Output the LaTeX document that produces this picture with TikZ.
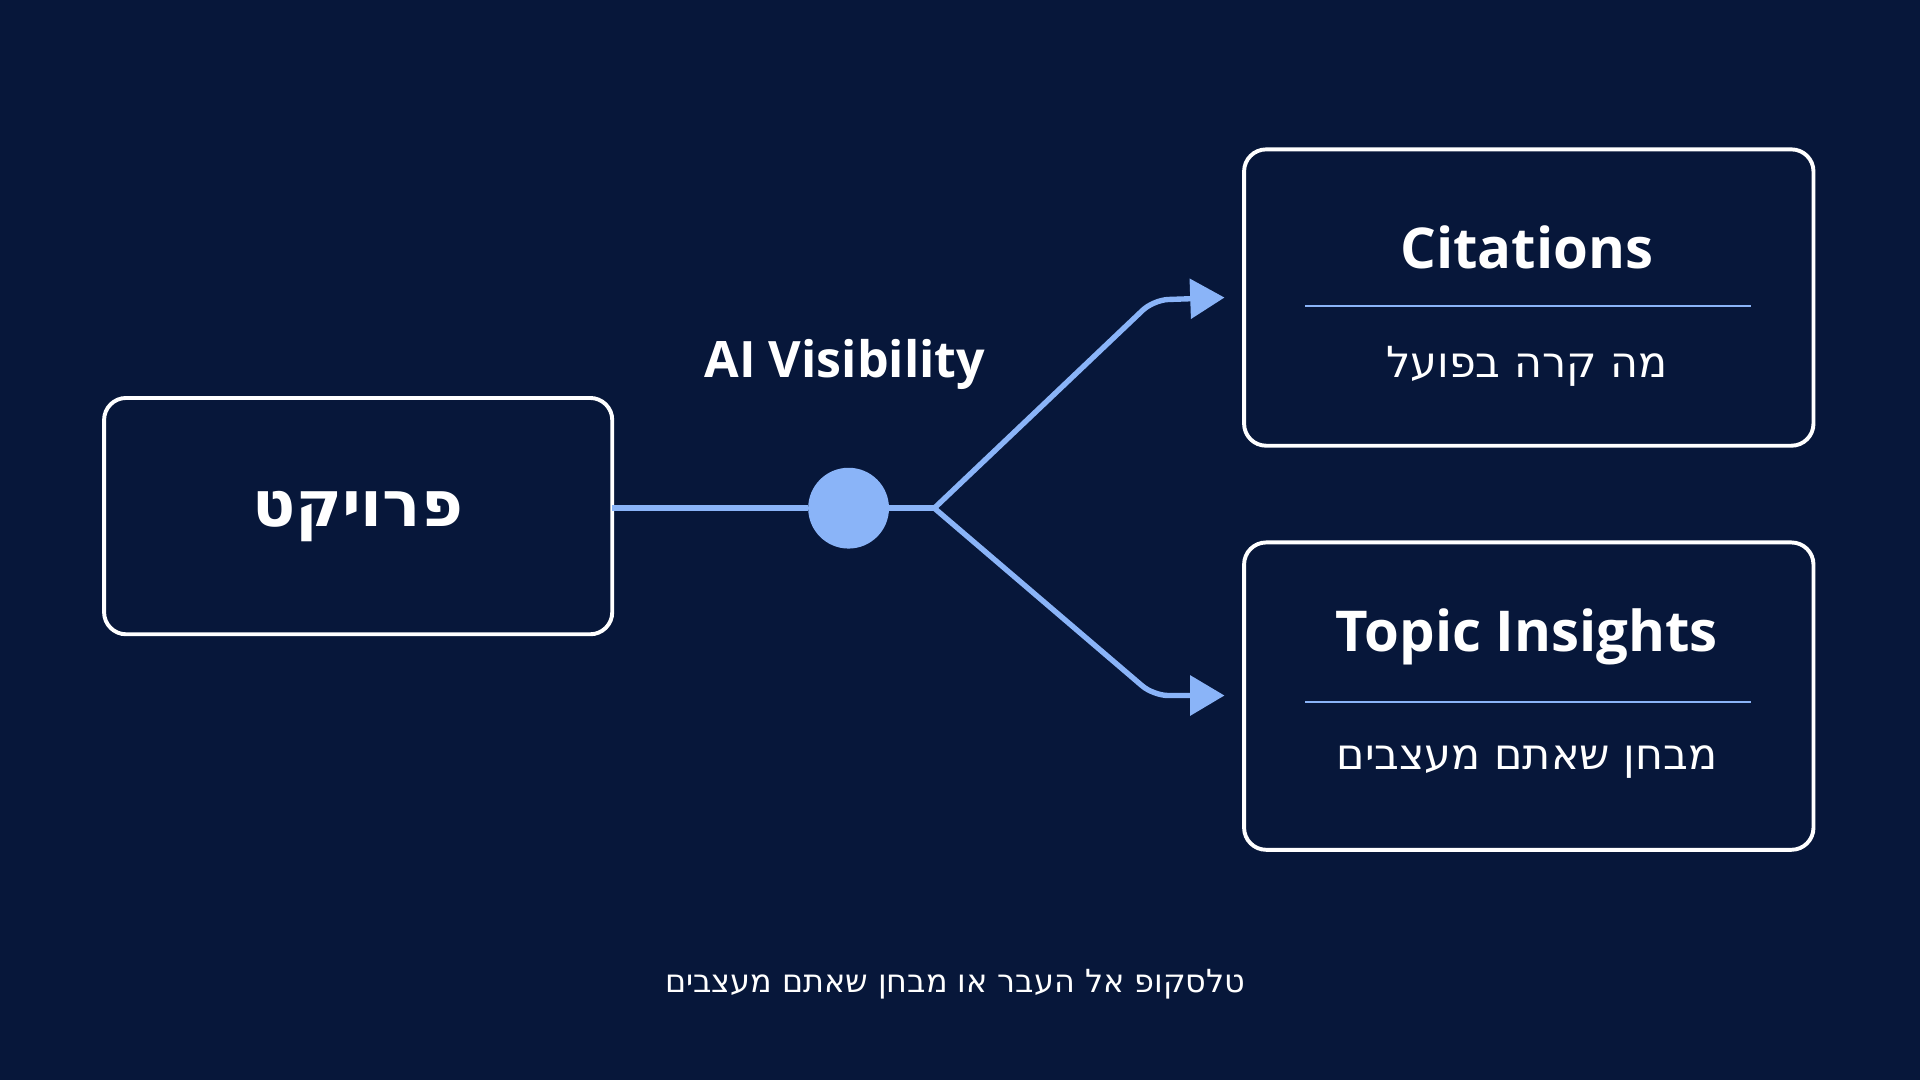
\documentclass[tikz,border=0pt]{standalone}
\usepackage{fontspec}
\setmainfont{Open Sans}
\newfontfamily\heb{DejaVu Sans}
\usetikzlibrary{arrows.meta}
\TeXXeTstate=1
\definecolor{bg}{HTML}{07173A}
\definecolor{acc}{HTML}{8AB4F8}
\newcommand{\rtl}[1]{\beginR #1\endR}
\begin{document}
\begin{tikzpicture}[x=0.5pt,y=-0.5pt,
  box/.style={draw=white,line width=1.6pt,rounded corners=9pt},
  con/.style={draw=acc,line width=2.2pt},
  div/.style={draw=acc,line width=0.8pt},
  tt/.style={text=white,font=\bfseries\fontsize{23}{28}\selectfont},
  sub/.style={text=white,font=\heb\fontsize{17.5}{20}\selectfont}]
\fill[bg] (0,0) rectangle (1568,882);
\useasboundingbox (0,0) rectangle (1568,882);
\draw[box] (85,325) rectangle (500,518);
\draw[box] (1016,122) rectangle (1481,364);
\draw[box] (1016,443) rectangle (1481,694);
\coordinate (s) at (500,415);
\node[circle,fill=acc,minimum size=33pt,inner sep=0] (c) at (693,415) {};
\coordinate (j) at (763,415);
\coordinate (t1) at (1000,243);
\coordinate (t2) at (1000,568);
\draw[con] (s) -- (c) -- (j);
\draw[con,rounded corners=6pt,-{Triangle[length=14pt,width=16pt]}] (j) -- (942,245) -- (t1);
\draw[con,rounded corners=6pt,-{Triangle[length=14pt,width=16pt]}] (j) -- (942,568) -- (t2);
\draw[div] (1066,250) -- (1430,250);
\draw[div] (1066,573) -- (1430,573);
\node[tt,font=\bfseries\fontsize{20.5}{25}\selectfont] (ai) at (690,298) {AI Visibility};
\node[tt] (ci) at (1247,202) {Citations};
\node[tt] (ti) at (1247,520) {Topic Insights};
\node[sub] (h1) at (1247,299) {\rtl{מה קרה בפועל}};
\node[sub] (h2) at (1247,622) {\rtl{מבחן שאתם מעצבים}};
\node[text=white,font=\heb\bfseries\fontsize{26}{30}\selectfont] (p) at (292,422) {\rtl{פרויקט}};
\node[text=white,font=\heb\fontsize{13}{15}\selectfont] (b) at (780,804) {\rtl{טלסקופ אל העבר או מבחן שאתם מעצבים}};
\end{tikzpicture}
\end{document}
